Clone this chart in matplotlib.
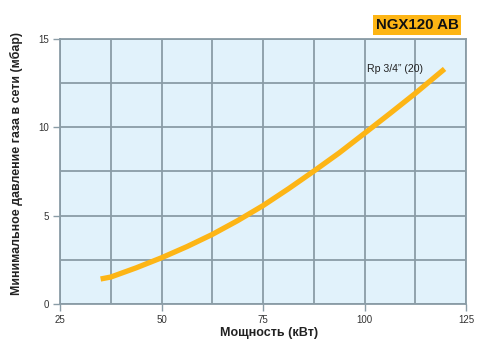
import matplotlib
matplotlib.use("Agg")
import matplotlib.pyplot as plt
from matplotlib.ticker import MultipleLocator

plt.rcParams['font.family'] = ['Liberation Sans', 'DejaVu Sans']

power_kw = [35, 37.5, 43.75, 50, 56.25, 62.5, 68.75, 75, 81.25, 87.5,
            93.75, 100, 106.25, 112.5, 119.7]
pressure_mbar = [1.42, 1.53, 2.05, 2.62, 3.25, 3.94, 4.72, 5.57, 6.52, 7.52,
                 8.55, 9.66, 10.78, 11.92, 13.3]
x_ticks = [25, 50, 75, 100, 125]
y_ticks = [0, 5, 10, 15]
series_label = "Rp 3/4\u201d (20)"
title_box = "NGX120 AB"
x_label = "Мощность (кВт)"
y_label = "Минимальное давление газа в сети (мбар)"

grid_c = '#8A9CA6'
fig = plt.figure(figsize=(4.8, 3.44), dpi=100)
ax = fig.add_axes([0.125, 0.116, 0.846, 0.771])
ax.set_facecolor('#E1F2FB')
ax.set_xlim(25, 125)
ax.set_ylim(0, 15)
ax.set_xticks(x_ticks)
ax.set_yticks(y_ticks)
ax.xaxis.set_minor_locator(MultipleLocator(12.5))
ax.yaxis.set_minor_locator(MultipleLocator(2.5))
ax.grid(True, which='both', color=grid_c, linewidth=1.3, zorder=1)
ax.set_axisbelow(True)
for s in ax.spines.values():
    s.set_color(grid_c)
    s.set_linewidth(1.3)
ax.tick_params(which='major', direction='out', length=5, width=1, color=grid_c,
               labelsize=7, labelcolor='#333333', pad=3)
ax.tick_params(which='minor', length=0)

ax.plot(power_kw, pressure_mbar, color='#FDB515', linewidth=3.8,
        solid_capstyle='butt', solid_joinstyle='round', zorder=3)

ax.text(100.7, 13.3, series_label, fontsize=7.6, color='#222222',
        ha='left', va='center', zorder=4)

ax.set_xlabel(x_label, fontsize=9, fontweight='bold', color='#222222')
ax.xaxis.set_label_coords(0.514, -0.085)
ax.set_ylabel(y_label, fontsize=8.9, fontweight='bold', color='#222222')
ax.yaxis.set_label_coords(-0.09, 0.53)

fig.text(0.955, 0.927, title_box, fontsize=10.8, fontweight='bold', color='#111111',
         ha='right', va='center',
         bbox=dict(boxstyle='square,pad=0.2', facecolor='#FDB515', edgecolor='none'))

fig.savefig('out.png', dpi=100)
